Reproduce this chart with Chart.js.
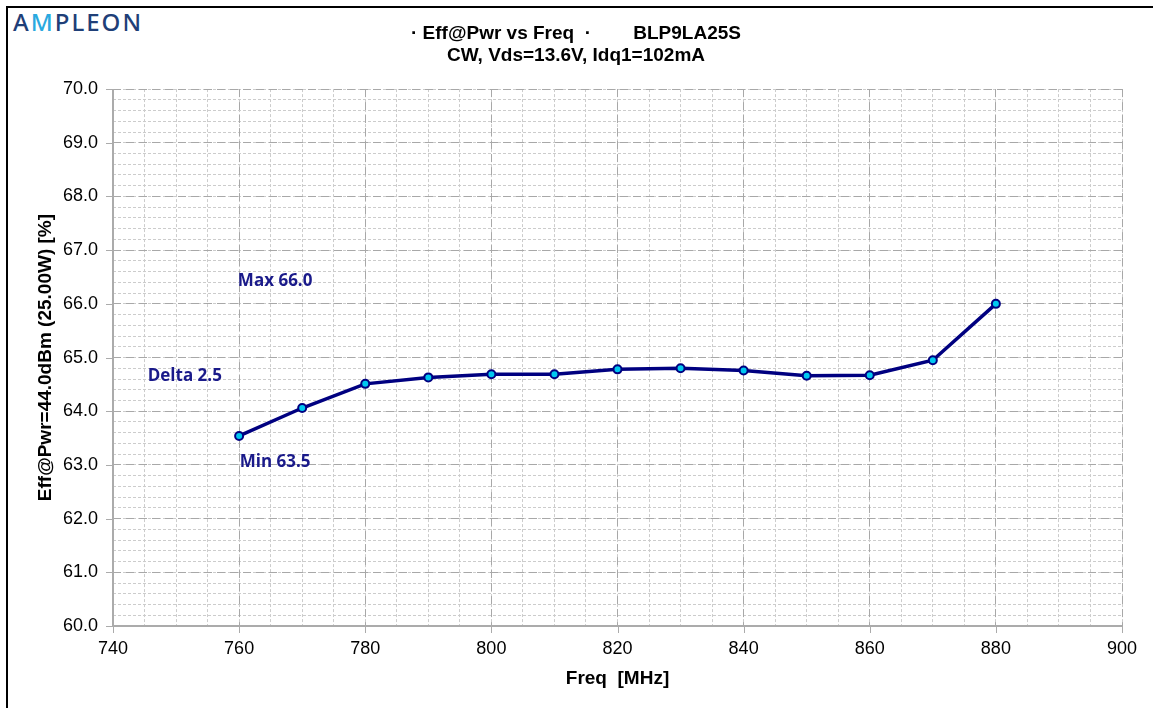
<!DOCTYPE html>
<html>
<head>
<meta charset="utf-8">
<script src="https://cdn.jsdelivr.net/npm/chart.js@4"></script>
<style>
  body { margin: 0; background: #fff; }
  #wrap { position: relative; width: 1153px; height: 708px; }
  #frame { position: absolute; left: 6px; top: 6px; right: -2px; bottom: -2px; border-left: 2px solid #000; border-top: 2px solid #000; }
  #logo { position: absolute; left: 13px; top: 5px; font: 500 24px "Noto Sans", sans-serif; color: #1f3f78; letter-spacing: 2px; }
  #logo span { color: #2aa9e0; }
  canvas { position: absolute; left: 0; top: 0; }
</style>
</head>
<body>
<div id="wrap">
  <div id="frame"></div>
  <div id="logo">A<span>M</span>PLEON</div>
  <canvas id="myChart" width="1153" height="708"></canvas>
</div>
<script>
var freq = [760, 770, 780, 790, 800, 810, 820, 830, 840, 850, 860, 870, 880];
var eff = [63.54, 64.06, 64.51, 64.63, 64.69, 64.69, 64.78, 64.80, 64.76, 64.66, 64.67, 64.95, 66.0];
var titleLines = ['· Eff@Pwr vs Freq  ·        BLP9LA25S', 'CW, Vds=13.6V, Idq1=102mA'];
var notes = [
    { text: 'Max 66.0', x: 759.8, y: 66.42 },
    { text: 'Delta 2.5', x: 745.5, y: 64.66 },
    { text: 'Min 63.5', x: 760.1, y: 63.05 }
];

var navy = '#000080';
var axisGray = '#ababab';

// solid axis lines + tick marks, then the Max/Min/Delta notes
var extrasPlugin = {
    id: 'extras',
    beforeDatasetsDraw: function (chart) {
        var c = chart.ctx, a = chart.chartArea;
        var xs = chart.scales.x, ys = chart.scales.y;
        c.save();
        c.strokeStyle = axisGray;
        c.lineWidth = 2;
        c.beginPath();
        c.moveTo(a.left, a.top); c.lineTo(a.left, a.bottom); c.lineTo(a.right, a.bottom);
        c.stroke();
        c.lineWidth = 1;
        c.beginPath();
        ys.ticks.forEach(function (t) {
            var p = Math.round(ys.getPixelForValue(t.value)) + 0.5;
            c.moveTo(a.left - 7, p); c.lineTo(a.left, p);
        });
        xs.ticks.forEach(function (t) {
            var p = Math.round(xs.getPixelForValue(t.value)) + 0.5;
            c.moveTo(p, a.bottom); c.lineTo(p, a.bottom + 7);
        });
        c.stroke();
        c.restore();
    },
    afterDatasetsDraw: function (chart) {
        var c = chart.ctx;
        var xs = chart.scales.x, ys = chart.scales.y;
        c.save();
        c.fillStyle = '#1a1a8a';
        c.font = 'bold 17px "Open Sans", sans-serif';
        c.textBaseline = 'middle';
        notes.forEach(function (n) {
            c.fillText(n.text, xs.getPixelForValue(n.x), ys.getPixelForValue(n.y));
        });
        c.restore();
    }
};

var ctx = document.getElementById('myChart').getContext('2d');
var myChart = new Chart(ctx, {
    type: 'line',
    data: {
        datasets: [{
            label: 'Eff',
            data: freq.map(function (f, i) { return { x: f, y: eff[i] }; }),
            borderColor: navy,
            borderWidth: 3.5,
            backgroundColor: '#00c8f0',
            pointBackgroundColor: '#00c8f0',
            pointBorderColor: navy,
            pointBorderWidth: 2,
            pointRadius: 4,
            tension: 0
        }]
    },
    options: {
        responsive: false,
        animation: false,
        layout: { padding: { top: 23, right: 31, left: 30, bottom: 8 } },
        plugins: {
            legend: { display: false },
            tooltip: { enabled: false },
            title: {
                display: true,
                text: titleLines,
                color: '#000',
                font: { family: '"Liberation Sans", Arial, sans-serif', size: 19, weight: 'bold', lineHeight: 1.16 },
                padding: { top: 0, bottom: 22 }
            }
        },
        scales: {
            x2: {
                type: 'linear', min: 740, max: 900, position: 'bottom',
                display: true,
                ticks: { stepSize: 5, display: false },
                grid: { color: '#cccccc', lineWidth: 1, drawTicks: false },
                border: { display: false, dash: [3, 2] },
                afterFit: function (s) { s.height = 0; }
            },
            y2: {
                type: 'linear', min: 60, max: 70, position: 'left',
                display: true,
                ticks: { stepSize: 0.2, display: false },
                grid: { color: '#cccccc', lineWidth: 1, drawTicks: false },
                border: { display: false, dash: [3, 2] },
                afterFit: function (s) { s.width = 0; }
            },
            x: {
                type: 'linear', min: 740, max: 900, position: 'bottom',
                ticks: {
                    stepSize: 20, color: '#000', padding: 12,
                    font: { family: '"Liberation Sans", Arial, sans-serif', size: 18 }
                },
                grid: { color: '#a8a8a8', lineWidth: 1, drawTicks: false },
                border: { display: false, dash: [8, 5] },
                title: {
                    display: true, text: 'Freq  [MHz]', color: '#000',
                    font: { family: '"Liberation Sans", Arial, sans-serif', size: 19, weight: 'bold' },
                    padding: { top: 0, bottom: 10 }
                },
                afterFit: function (s) { s.height = 74; }
            },
            y: {
                type: 'linear', min: 60, max: 70, position: 'left',
                ticks: {
                    stepSize: 1, color: '#000', padding: 15,
                    font: { family: '"Liberation Sans", Arial, sans-serif', size: 18 },
                    callback: function (v) { return v.toFixed(1); }
                },
                grid: { color: '#a8a8a8', lineWidth: 1, drawTicks: false },
                border: { display: false, dash: [8, 5] },
                title: {
                    display: true, text: 'Eff@Pwr=44.0dBm (25.00W) [%]', color: '#000',
                    font: { family: '"Liberation Sans", Arial, sans-serif', size: 19, weight: 'bold' },
                    padding: { top: 4, bottom: 4 }
                },
                afterFit: function (s) { s.width = 83; }
            }
        }
    },
    plugins: [extrasPlugin]
});
</script>
</body>
</html>
